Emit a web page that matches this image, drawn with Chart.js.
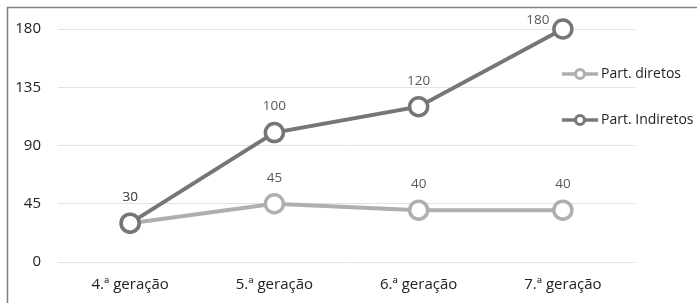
<!DOCTYPE html>
<html>
<head>
<meta charset="utf-8">
<script src="https://cdn.jsdelivr.net/npm/chart.js@4/dist/chart.umd.min.js"></script>
<style>
html,body{margin:0;padding:0;background:#fff;}
#wrap{position:relative;width:697px;height:303px;}
</style>
</head>
<body>
<div id="wrap"><canvas id="c" width="697" height="303"></canvas></div>
<script>
const categories = ['4.ª geração', '5.ª geração', '6.ª geração', '7.ª geração'];
const diretos = [30, 45, 40, 40];
const indiretos = [30, 100, 120, 180];
const yTicks = [0, 45, 90, 135, 180];

const FONT = '"Open Sans", sans-serif';
const LIGHT = '#afafaf';
const DARK = '#767676';

const framePlugin = {
  id: 'frame',
  afterDraw(chart) {
    const ctx = chart.ctx;
    ctx.save();
    ctx.strokeStyle = '#808080';
    ctx.lineWidth = 1.5;
    ctx.strokeRect(7.5, 7.5, 720, 320);
    ctx.restore();
  }
};

const labelPlugin = {
  id: 'vlabels',
  afterDatasetsDraw(chart) {
    const ctx = chart.ctx;
    ctx.save();
    ctx.font = '13.5px ' + FONT;
    ctx.fillStyle = '#595959';
    ctx.textAlign = 'center';
    ctx.textBaseline = 'middle';
    chart.data.datasets.forEach((ds, i) => {
      const meta = chart.getDatasetMeta(i);
      meta.data.forEach((pt, j) => {
        let x = pt.x, y = pt.y - 26;
        if (y < chart.chartArea.top) { x = pt.x - 25; y = pt.y - 9; }
        ctx.fillText(String(ds.data[j]), x, y);
      });
    });
    ctx.restore();
  }
};

const legendPlugin = {
  id: 'customLegend',
  afterDraw(chart) {
    const ctx = chart.ctx;
    ctx.save();
    const rows = [74, 120];
    chart.data.datasets.forEach((ds, i) => {
      const y = rows[i];
      ctx.strokeStyle = ds.borderColor;
      ctx.lineWidth = 3.5;
      ctx.beginPath();
      ctx.moveTo(562, y);
      ctx.lineTo(598, y);
      ctx.stroke();
      ctx.beginPath();
      ctx.arc(580, y, 4.5, 0, Math.PI * 2);
      ctx.fillStyle = '#fff';
      ctx.fill();
      ctx.lineWidth = 3;
      ctx.stroke();
      ctx.fillStyle = '#222';
      ctx.font = '14px ' + FONT;
      ctx.textAlign = 'left';
      ctx.textBaseline = 'middle';
      ctx.fillText(ds.label, 601, y);
    });
    ctx.restore();
  }
};

new Chart(document.getElementById('c'), {
  type: 'line',
  data: {
    labels: categories,
    datasets: [
      {
        label: 'Part. diretos', data: diretos, order: 1, clip: false,
        borderColor: LIGHT, borderWidth: 4,
        pointRadius: 9, pointBorderWidth: 3.5, pointBackgroundColor: '#fff', pointBorderColor: LIGHT,
        pointHoverRadius: 9, tension: 0
      },
      {
        label: 'Part. Indiretos', data: indiretos, order: 0, clip: false,
        borderColor: DARK, borderWidth: 4,
        pointRadius: 9, pointBorderWidth: 3.5, pointBackgroundColor: '#fff', pointBorderColor: DARK,
        pointHoverRadius: 9, tension: 0
      }
    ]
  },
  options: {
    responsive: false,
    animation: false,
    events: [],
    layout: { padding: { left: 0, top: 29, right: 62, bottom: 0 } },
    plugins: { legend: { display: false }, tooltip: { enabled: false } },
    scales: {
      x: {
        offset: true,
        grid: { display: false, drawTicks: false },
        border: { display: false },
        ticks: { color: '#222', font: { size: 15, family: FONT }, padding: 14 },
        afterFit(s) { s.height = 41; }
      },
      y: {
        min: 0, max: 180,
        afterBuildTicks(s) { s.ticks = yTicks.map(v => ({ value: v })); },
        grid: { color: '#e3e3e3', lineWidth: 1, drawTicks: false },
        border: { display: false },
        ticks: { color: '#222', font: { size: 15, family: FONT }, padding: 17 },
        afterFit(s) { s.width = 58; }
      }
    }
  },
  plugins: [framePlugin, labelPlugin, legendPlugin]
});
</script>
</body>
</html>
